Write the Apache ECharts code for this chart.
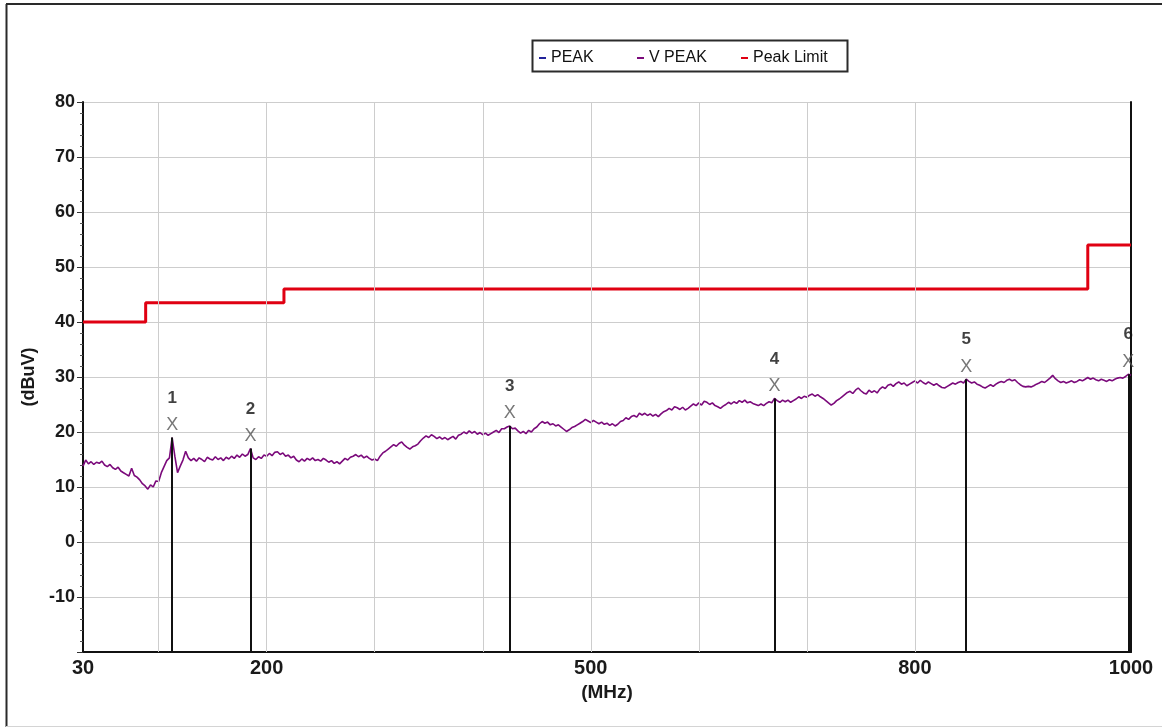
<!DOCTYPE html>
<html>
<head>
<meta charset="utf-8">
<title>Radiated emission scan 30–1000 MHz</title>
<script src="https://cdn.jsdelivr.net/npm/echarts@6/dist/echarts.min.js"></script>
<style>
  html, body { margin: 0; padding: 0; background: #ffffff; }
  #chart { width: 1162px; height: 727px; }
</style>
</head>
<body>
<div id="chart"></div>
<script>
// Sweep grid of the V PEAK trace: first frequency and step, in MHz
const sweepStart = 30;
const sweepStep = 2.5;

// V PEAK trace levels (dBuV), one per sweep point from 30 MHz to 1000 MHz
const vPeak = [
  13.8, 14.9, 14.2, 14.6, 14.1, 14.5, 14.3, 14.7, 14.0, 13.7, 14.1, 13.5, 13.2, 13.6, 12.9, 12.6,
  12.3, 12.0, 13.4, 12.1, 11.8, 11.3, 10.6, 10.2, 9.6, 10.4, 10.0, 11.1, 11.0, 12.6, 13.7, 14.8,
  15.3, 19.0, 15.6, 12.6, 13.8, 14.9, 16.5, 15.3, 14.8, 15.2, 14.7, 15.3, 15.0, 14.6, 15.4, 15.1,
  14.9, 15.5, 15.0, 15.3, 14.8, 15.4, 15.1, 15.6, 15.2, 15.8, 15.4, 16.0, 15.6, 15.9, 17.0, 15.3,
  15.0, 15.5, 15.2, 15.8, 15.6, 16.1, 15.7, 16.3, 16.4, 15.9, 16.2, 15.6, 15.8, 15.3, 15.6, 14.9,
  14.6, 15.1, 14.7, 15.2, 14.9, 15.3, 14.8, 15.0, 14.7, 15.2, 14.9, 14.5, 14.8, 14.3, 14.6, 14.2,
  14.7, 15.2, 14.9, 15.4, 15.6, 15.9, 15.5, 15.8, 15.3, 15.6, 15.2, 14.9, 15.1, 14.8, 15.6, 16.2,
  16.5, 16.9, 17.3, 17.7, 17.4, 17.9, 18.2, 17.6, 17.2, 16.9, 17.3, 17.5, 17.8, 18.4, 18.9, 19.3,
  19.0, 19.5, 19.2, 18.8, 19.1, 18.7, 19.0, 18.6, 18.9, 19.2, 18.7, 19.4, 19.6, 20.0, 19.7, 20.2,
  19.8, 20.1, 19.6, 19.9, 19.5, 19.8, 19.4, 19.7, 20.0, 20.3, 19.9, 20.6, 20.6, 20.9, 21.1, 20.6,
  20.7, 20.2, 19.8, 20.1, 19.7, 20.3, 20.0, 20.6, 20.9, 21.5, 21.9, 21.6, 21.8, 21.3, 21.5, 21.1,
  21.3, 20.9, 20.5, 20.1, 20.4, 20.8, 21.0, 21.3, 21.6, 21.9, 22.3, 22.0, 21.7, 22.1, 21.8, 21.5,
  21.8, 21.4, 21.6, 21.2, 21.5, 21.1, 21.4, 21.9, 22.1, 22.6, 22.3, 22.8, 23.0, 22.7, 23.4, 23.1,
  23.4, 23.0, 23.3, 22.9, 23.2, 22.8, 23.3, 23.7, 23.9, 24.3, 24.0, 24.6, 24.4, 24.1, 24.5, 24.0,
  24.3, 24.7, 25.1, 24.8, 25.3, 24.9, 25.6, 25.4, 25.0, 25.3, 24.8, 24.6, 24.3, 24.7, 25.0, 25.4,
  25.1, 25.5, 25.2, 25.7, 25.4, 25.8, 25.3, 25.5, 25.2, 25.0, 24.8, 25.1, 24.8, 25.2, 25.5, 25.3,
  26.1, 25.7, 25.4, 25.8, 25.5, 25.8, 25.4, 25.7, 26.0, 26.4, 26.1, 26.5, 26.3, 26.7, 26.9, 26.5,
  26.8, 26.4, 26.1, 25.7, 25.3, 24.9, 25.2, 25.7, 26.0, 26.4, 26.8, 27.2, 27.4, 27.0, 27.6, 28.0,
  27.5, 27.1, 26.9, 27.6, 27.2, 27.5, 27.1, 27.8, 28.2, 27.9, 28.5, 28.7, 28.3, 28.8, 29.1, 28.7,
  28.9, 28.4, 28.7, 29.0, 29.3, 28.9, 29.4, 29.0, 28.7, 29.1, 28.8, 28.5, 28.8, 28.4, 28.1, 28.0,
  28.3, 28.6, 28.9, 28.7, 29.0, 29.2, 28.9, 29.6, 29.2, 28.9, 29.1, 28.7, 28.5, 28.2, 28.0, 28.3,
  28.6, 28.3, 28.7, 29.0, 29.2, 29.0, 29.4, 29.6, 29.3, 29.5, 29.0, 28.6, 28.3, 28.2, 28.3, 28.2,
  28.4, 28.7, 28.9, 29.2, 29.0, 29.4, 29.8, 30.3, 29.7, 29.3, 29.0, 29.2, 28.9, 29.1, 29.3, 29.0,
  29.2, 29.5, 29.3, 29.6, 29.9, 29.6, 29.8, 29.5, 29.3, 29.6, 29.4, 29.2, 29.5, 29.3, 29.6, 29.8,
  29.9, 29.8, 30.1, 30.5, 30.3
];

// Peak limit (dBuV) as a stepped line: corner frequencies and levels
const limitFreq  = [30, 88, 88, 216, 216, 960, 960, 1000];
const limitLevel = [40, 40, 43.5, 43.5, 46, 46, 54, 54];

const markerNo   = [1, 2, 3, 4, 5, 6];
const markerFreq = [112.5, 185, 425, 670, 847.5, 997.5];

// Frequency axis: labelled values and vertical grid lines
const xTickLabels = [30, 200, 500, 800, 1000];
const xGridFreq   = [100, 200, 300, 400, 500, 600, 700, 800];

const FONT = "'Liberation Sans', Arial, sans-serif";

const tracePoints = vPeak.map((v, i) => [sweepStart + i * sweepStep, v]);
const limitPoints = limitFreq.map((f, i) => [f, limitLevel[i]]);
const levelAt = f => vPeak[Math.round((f - sweepStart) / sweepStep)];
const markerPoints = markerFreq.map((f, i) => ({ value: [f, levelAt(f)], no: markerNo[i] }));

const chart = echarts.init(document.getElementById('chart'), null, { renderer: 'canvas' });

const legendCommon = {
  top: 50,
  padding: 0,
  icon: 'rect',
  itemWidth: 7,
  itemHeight: 2,
  selectedMode: false,
  textStyle: { fontFamily: FONT, fontSize: 16, color: '#111' }
};

const option = {
  animation: false,
  backgroundColor: '#ffffff',
  grid: { left: 83, right: 31, top: 102, bottom: 75 },
  legend: [
    Object.assign({ data: ['PEAK'], left: 539 }, legendCommon),
    Object.assign({ data: ['V PEAK'], left: 637 }, legendCommon),
    Object.assign({ data: ['Peak Limit'], left: 741 }, legendCommon)
  ],
  graphic: [
    // outer frame of the plot window
    { type: 'line', shape: { x1: 6.5, y1: 4, x2: 6.5, y2: 727 }, style: { stroke: '#2a2a2a', lineWidth: 2 }, silent: true },
    { type: 'line', shape: { x1: 6, y1: 4, x2: 1162, y2: 4 }, style: { stroke: '#2a2a2a', lineWidth: 2 }, silent: true },
    { type: 'line', shape: { x1: 6, y1: 726.5, x2: 1162, y2: 726.5 }, style: { stroke: '#d4d4d4', lineWidth: 1 }, silent: true },
    // legend box
    { type: 'rect', shape: { x: 532.5, y: 40.5, width: 315, height: 31 }, style: { fill: 'none', stroke: '#2b2b2b', lineWidth: 2 }, silent: true, z: 10 }
  ],
  xAxis: {
    type: 'value',
    min: 30,
    max: 1000,
    name: '(MHz)',
    nameLocation: 'middle',
    nameGap: 24,
    nameTextStyle: { fontFamily: FONT, fontSize: 19, fontWeight: 'bold', color: '#1a1a1a' },
    axisLine: { show: true, onZero: false, lineStyle: { color: '#111', width: 2 } },
    axisTick: { show: false },
    splitLine: { show: false },
    axisLabel: {
      customValues: xTickLabels,
      margin: 6,
      fontFamily: FONT,
      fontSize: 20,
      fontWeight: 'bold',
      color: '#1a1a1a',
      formatter: v => String(v)
    }
  },
  yAxis: [
    {
      type: 'value',
      min: -20,
      max: 80,
      interval: 10,
      name: '(dBuV)',
      nameLocation: 'middle',
      nameGap: 41,
      nameRotate: 90,
      nameTextStyle: { fontFamily: FONT, fontSize: 18, fontWeight: 'bold', color: '#1a1a1a' },
      axisLine: { show: true, onZero: false, lineStyle: { color: '#111', width: 2 } },
      axisTick: { show: true, length: 6, lineStyle: { color: '#333' } },
      minorTick: { show: true, splitNumber: 5, length: 3, lineStyle: { color: '#555' } },
      splitLine: { show: true, lineStyle: { color: '#cdcdcd', width: 1 } },
      axisLabel: {
        margin: 8,
        fontFamily: FONT,
        fontSize: 18,
        fontWeight: 'bold',
        color: '#1a1a1a',
        formatter: v => (v === -20 ? '' : String(v))
      }
    },
    {
      type: 'value',
      position: 'right',
      min: -20,
      max: 80,
      interval: 10,
      axisLine: { show: true, onZero: false, lineStyle: { color: '#111', width: 2 } },
      axisTick: { show: false },
      axisLabel: { show: false },
      splitLine: { show: false }
    }
  ],
  series: [
    {
      name: 'PEAK',
      type: 'line',
      z: 1,
      data: [],
      itemStyle: { color: '#22229a' },
      lineStyle: { color: '#22229a' },
      markLine: {
        silent: true,
        symbol: ['none', 'none'],
        label: { show: false },
        lineStyle: { color: '#cdcdcd', width: 1, type: 'solid' },
        data: xGridFreq.map(f => ({ xAxis: f }))
      }
    },
    {
      name: 'V PEAK',
      type: 'line',
      z: 3,
      data: tracePoints,
      showSymbol: false,
      symbol: 'none',
      itemStyle: { color: '#7b0a7b' },
      lineStyle: { color: '#7b0a7b', width: 1.6 }
    },
    {
      name: 'Peak Limit',
      type: 'line',
      z: 3,
      data: limitPoints,
      showSymbol: false,
      symbol: 'none',
      itemStyle: { color: '#e00012' },
      lineStyle: { color: '#e00012', width: 3 }
    },
    {
      name: 'Markers',
      type: 'scatter',
      z: 4,
      data: markerPoints,
      symbol: 'circle',
      symbolSize: 1,
      itemStyle: { color: 'rgba(0,0,0,0)' },
      label: {
        show: true,
        position: 'top',
        distance: 2,
        formatter: p => '{n|' + p.data.no + '}\n{x|X}',
        rich: {
          n: { fontFamily: FONT, fontSize: 17, fontWeight: 'bold', color: '#111', lineHeight: 34, align: 'center' },
          x: { fontFamily: FONT, fontSize: 18, color: '#555', lineHeight: 20, align: 'center' }
        }
      },
      markLine: {
        silent: true,
        symbol: ['none', 'none'],
        label: { show: false },
        lineStyle: { color: '#111', width: 2, type: 'solid' },
        data: markerPoints.map(p => [
          { coord: [p.value[0], -20] },
          { coord: [p.value[0], p.value[1]] }
        ])
      }
    }
  ]
};

chart.setOption(option);
</script>
</body>
</html>
